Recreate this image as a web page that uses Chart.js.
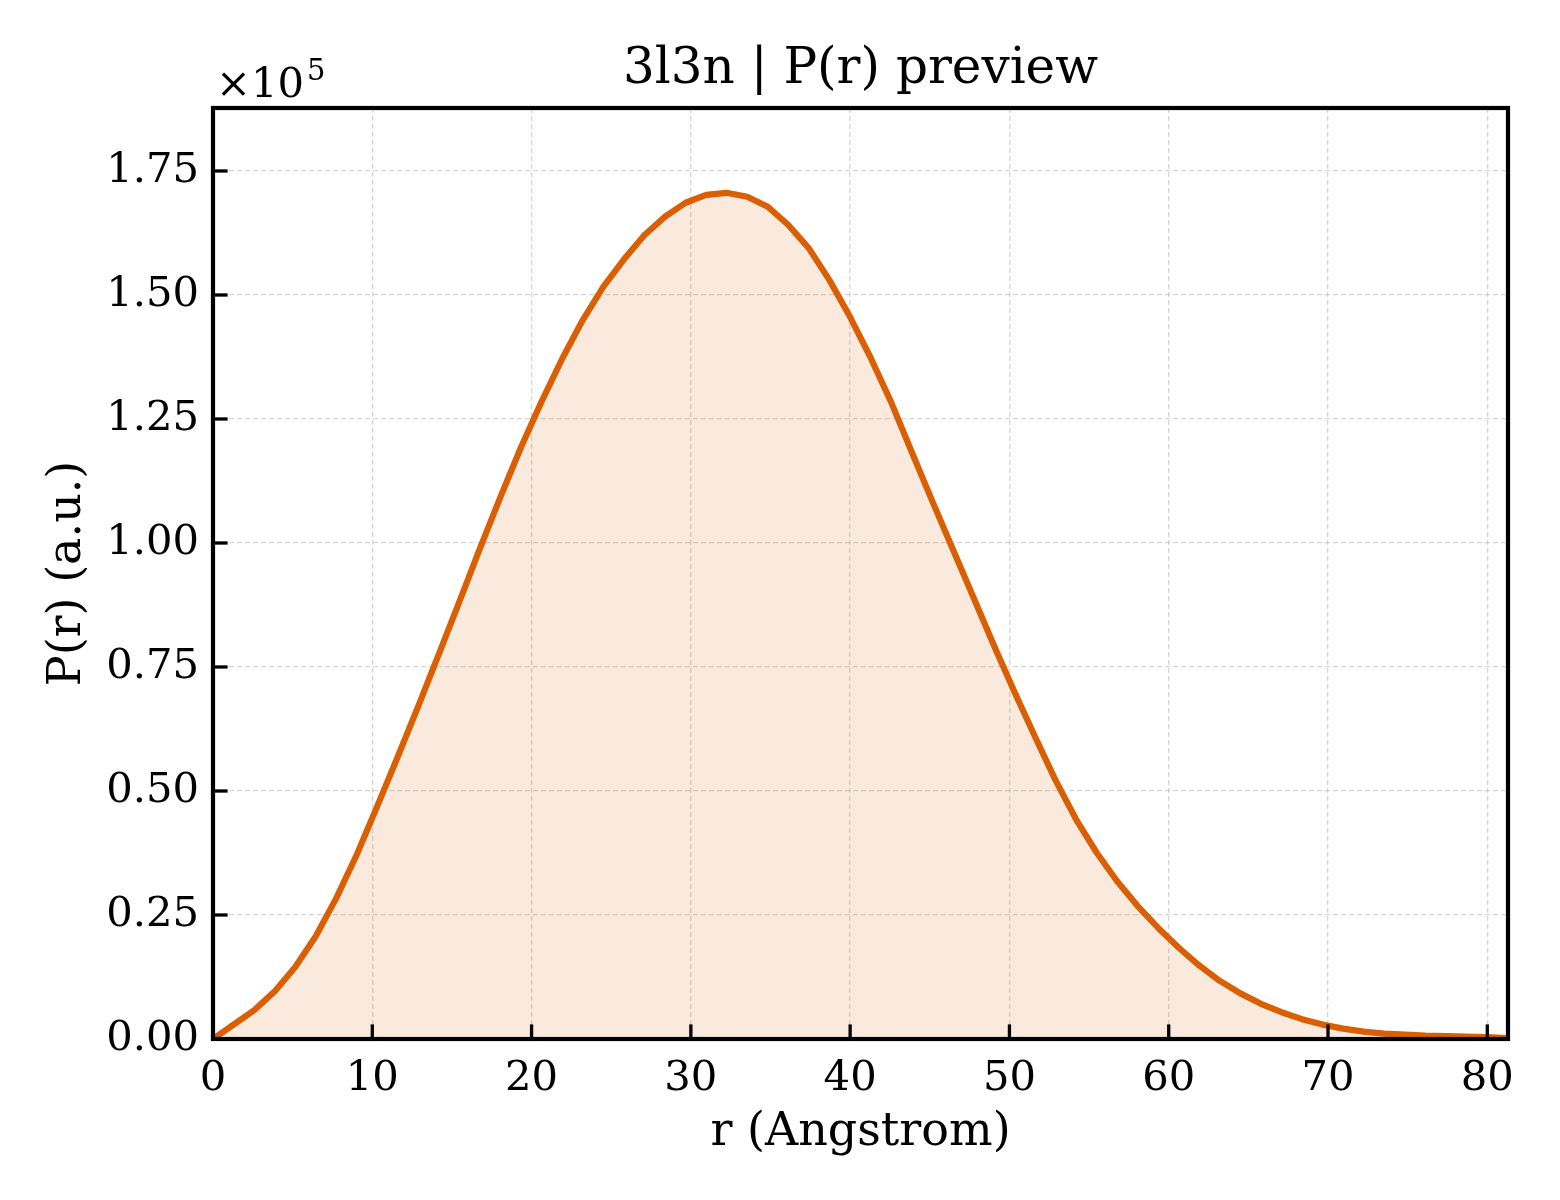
<!DOCTYPE html>
<html>
<head>
<meta charset="utf-8">
<script src="https://cdn.jsdelivr.net/npm/chart.js@4.4.1/dist/chart.umd.min.js"></script>
<style>
html,body{margin:0;padding:0;background:#ffffff;}
#wrap{width:1560px;height:1200px;position:relative;}
canvas{display:block;}
</style>
</head>
<body>
<div id="wrap"><canvas id="c" width="1560" height="1200"></canvas></div>
<script>
// ---- data ----
const rValues = [0, 1.29, 2.58, 3.87, 5.16, 6.45, 7.74, 9.03, 10.32, 11.61, 12.9, 14.19, 15.48, 16.77, 18.06, 19.35,
  20.64, 21.93, 23.22, 24.51, 25.8, 27.09, 28.38, 29.67, 30.96, 32.25, 33.54, 34.83, 36.12, 37.41, 38.7, 39.99,
  41.28, 42.57, 43.86, 45.15, 46.44, 47.73, 49.02, 50.31, 51.6, 52.89, 54.18, 55.47, 56.76, 58.05, 59.34, 60.63,
  61.92, 63.21, 64.5, 65.79, 67.08, 68.37, 69.66, 70.95, 72.24, 73.53, 74.82, 76.11, 77.4, 78.69, 79.98, 81.27];
const pValues = [0, 2900, 5800, 9600, 14500, 20700, 28400, 37200, 47000, 57000, 67200, 77700, 88300, 99000, 109400, 119400,
  128600, 137200, 145000, 151700, 157200, 162100, 165800, 168600, 170200, 170600, 169800, 167800, 164100, 159400, 153000, 145600,
  137400, 128400, 118400, 108500, 98800, 89100, 79400, 70000, 61000, 52200, 44300, 37600, 31800, 26800, 22400, 18400,
  14800, 11700, 9200, 7100, 5400, 4000, 2900, 2100, 1500, 1100, 900, 700, 600, 500, 400, 200];
const xTickValues = [0, 10, 20, 30, 40, 50, 60, 70, 80];
const yTickValues = [0, 25000, 50000, 75000, 100000, 125000, 150000, 175000];
const chartTitle = '3l3n | P(r) preview';
const xLabel = 'r (Angstrom)';
const yLabel = 'P(r) (a.u.)';
const offsetBase = '×10';
const offsetExp = '5';

const FONT = '"DejaVu Serif", "Liberation Serif", serif';

const decorPlugin = {
  id: 'decor',
  afterDraw(chart) {
    const {ctx, chartArea: a, scales: {x, y}} = chart;
    ctx.save();
    ctx.strokeStyle = '#000';
    ctx.lineCap = 'butt';
    ctx.lineWidth = 3.3;
    xTickValues.forEach(v => {
      const px = x.getPixelForValue(v);
      ctx.beginPath(); ctx.moveTo(px, a.bottom); ctx.lineTo(px, a.bottom - 14.6); ctx.stroke();
    });
    yTickValues.forEach(v => {
      const py = y.getPixelForValue(v);
      ctx.beginPath(); ctx.moveTo(a.left, py); ctx.lineTo(a.left + 14.6, py); ctx.stroke();
    });
    ctx.lineWidth = 4.2;
    ctx.strokeRect(a.left, a.top, a.right - a.left, a.bottom - a.top);

    ctx.fillStyle = '#000';
    // title
    ctx.font = '50px ' + FONT;
    ctx.textAlign = 'center';
    ctx.textBaseline = 'alphabetic';
    ctx.fillText(chartTitle, (a.left + a.right) / 2, 83);
    // x label
    ctx.font = '46px ' + FONT;
    ctx.fillText(xLabel, (a.left + a.right) / 2, 1145);
    // y label
    ctx.save();
    ctx.translate(80, (a.top + a.bottom) / 2);
    ctx.rotate(-Math.PI / 2);
    ctx.fillText(yLabel, 0, 0);
    ctx.restore();
    // offset text
    ctx.textAlign = 'left';
    ctx.font = '41.7px ' + FONT;
    ctx.fillText(offsetBase, a.left + 3, a.top - 11);
    const w = ctx.measureText(offsetBase).width;
    ctx.font = '29px ' + FONT;
    ctx.fillText(offsetExp, a.left + 3 + w + 3, a.top - 28);
    ctx.restore();
  }
};

const points = rValues.map((r, i) => ({x: r, y: pValues[i]}));

new Chart(document.getElementById('c'), {
  type: 'line',
  data: {
    datasets: [{
      data: points,
      borderColor: '#d95f02',
      borderWidth: 6.2,
      borderJoinStyle: 'round',
      borderCapStyle: 'round',
      backgroundColor: 'rgba(217,95,2,0.13)',
      fill: 'origin',
      tension: 0,
      pointRadius: 0,
      pointHoverRadius: 0
    }]
  },
  options: {
    responsive: false,
    devicePixelRatio: 1,
    animation: false,
    layout: {padding: {top: 108, right: 52, bottom: 0, left: 0}},
    plugins: {legend: {display: false}, tooltip: {enabled: false}, title: {display: false}},
    scales: {
      x: {
        type: 'linear',
        min: 0,
        max: 81.3,
        afterFit(scale) { scale.height = 161; },
        afterBuildTicks(scale) { scale.ticks = xTickValues.map(v => ({value: v})); },
        grid: {color: 'rgba(150,150,150,0.4)', lineWidth: 1.3, drawTicks: false},
        border: {display: false, dash: [5, 3]},
        ticks: {
          padding: 15,
          color: '#000',
          font: {family: FONT, size: 41.7},
          maxRotation: 0,
          autoSkip: false,
          callback: v => String(v)
        }
      },
      y: {
        type: 'linear',
        min: 0,
        max: 187700,
        afterFit(scale) { scale.width = 213; },
        afterBuildTicks(scale) { scale.ticks = yTickValues.map(v => ({value: v})); },
        grid: {color: 'rgba(150,150,150,0.4)', lineWidth: 1.3, drawTicks: false},
        border: {display: false, dash: [5, 3]},
        ticks: {
          padding: 14,
          color: '#000',
          font: {family: FONT, size: 41.7},
          autoSkip: false,
          callback: v => (v / 1e5).toFixed(2)
        }
      }
    }
  },
  plugins: [decorPlugin]
});
</script>
</body>
</html>
